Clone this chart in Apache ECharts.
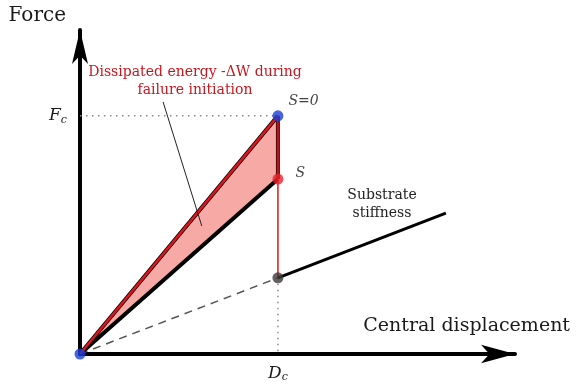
<!DOCTYPE html>
<html>
<head>
<meta charset="utf-8">
<script src="https://cdn.jsdelivr.net/npm/echarts@6/dist/echarts.min.js"></script>
<style>
  html, body { margin: 0; padding: 0; background: #fff; }
  #chart { width: 579px; height: 386px; }
</style>
</head>
<body>
<div id="chart"></div>
<script>
// Force / central-displacement response (arbitrary units)
const origin = [0, 0];
const peakPoint = [45.5, 73.5];       // S = 0, critical force Fc reached at Dc
const damagedPoint = [45.5, 54.0];    // S, stiffness after failure initiation
const substrateStart = [45.5, 23.5];  // substrate-only response at Dc
const substrateEnd = [84.1, 43.5];
const leaderLine = [[19.1, 77.8], [28.0, 39.5]];
const xTickValues = [45.5];           // Dc
const yTickValues = [73.5];           // Fc
const axisNames = ['Central displacement', 'Force'];
const noteLines = ['Dissipated energy -\u0394W during', 'failure initiation'];
const substrateNote = ['Substrate', 'stiffness'];

const serif = 'DejaVu Serif';
const RED = '#e0141c';
const TEXT_RED = '#c8161e';

const chart = echarts.init(document.getElementById('chart'), null, { renderer: 'canvas' });

function segment(points, style, z) {
  return {
    type: 'line',
    data: points,
    symbol: 'none',
    silent: true,
    animation: false,
    z: z,
    lineStyle: style
  };
}

const option = {
  backgroundColor: '#fff',
  animation: false,
  grid: { left: 80, right: 64, top: 30, bottom: 32 },
  xAxis: {
    type: 'value',
    min: 0,
    max: 100,
    name: axisNames[0],
    nameLocation: 'end',
    nameGap: 55,
    nameTextStyle: {
      fontFamily: serif, fontSize: 19, color: '#1a1a1a',
      align: 'right', verticalAlign: 'bottom', padding: [0, 0, 18, 0]
    },
    axisLine: {
      show: true,
      symbol: ['none', 'arrow'],
      symbolSize: [14, 34],
      lineStyle: { color: '#000', width: 4 }
    },
    axisTick: { show: false },
    splitLine: { show: false },
    axisLabel: {
      customValues: xTickValues,
      margin: 10,
      formatter: () => '{v|D}{s|c}',
      rich: {
        v: { fontFamily: serif, fontStyle: 'italic', fontSize: 17, color: '#1a1a1a' },
        s: { fontFamily: serif, fontStyle: 'italic', fontSize: 11, color: '#1a1a1a', padding: [8, 0, 0, 0] }
      }
    }
  },
  yAxis: {
    type: 'value',
    min: 0,
    max: 100,
    name: axisNames[1],
    nameLocation: 'end',
    nameGap: 4,
    nameTextStyle: {
      fontFamily: serif, fontSize: 20, color: '#1a1a1a',
      align: 'right', verticalAlign: 'bottom', padding: [0, 14, 0, 0]
    },
    axisLine: {
      show: true,
      symbol: ['none', 'arrow'],
      symbolSize: [12, 34],
      lineStyle: { color: '#000', width: 4 }
    },
    axisTick: { show: false },
    splitLine: { show: false },
    axisLabel: {
      customValues: yTickValues,
      margin: 13,
      formatter: () => '{v|F}{s|c}',
      rich: {
        v: { fontFamily: serif, fontStyle: 'italic', fontSize: 17, color: '#1a1a1a' },
        s: { fontFamily: serif, fontStyle: 'italic', fontSize: 11, color: '#1a1a1a', padding: [8, 0, 0, 0] }
      }
    }
  },
  graphic: [
    {
      type: 'text',
      x: 195, y: 63,
      style: {
        text: noteLines.join('\n'),
        fontFamily: serif, fontSize: 14, fill: TEXT_RED,
        align: 'center', verticalAlign: 'top', lineHeight: 18
      },
      silent: true
    },
    {
      type: 'text',
      x: 382, y: 186,
      style: {
        text: substrateNote.join('\n'),
        fontFamily: serif, fontSize: 14, fill: '#222',
        align: 'center', verticalAlign: 'top', lineHeight: 18
      },
      silent: true
    }
  ],
  series: [
    // energy dissipated during failure initiation
    {
      type: 'custom',
      silent: true,
      z: 1,
      data: [[0]],
      renderItem: function (params, api) {
        const pts = [origin, peakPoint, damagedPoint].map(p => api.coord(p));
        return {
          type: 'polygon',
          shape: { points: pts },
          style: { fill: '#f7a9a6', stroke: null }
        };
      }
    },
    segment([[0, peakPoint[1]], peakPoint], { color: '#8a8a8a', width: 1.5, type: [1.5, 4.5] }, 2),
    segment([substrateStart, [substrateStart[0], 0]], { color: '#8a8a8a', width: 1.5, type: [1.5, 4.5] }, 2),
    segment([origin, substrateStart], { color: '#555', width: 1.5, type: [8, 6] }, 2),
    segment([origin, damagedPoint], { color: '#000', width: 4 }, 3),
    segment([origin, peakPoint], { color: '#000', width: 4 }, 3),
    segment([origin, peakPoint], { color: RED, width: 2.5 }, 4),
    segment([peakPoint, damagedPoint], { color: '#5a0a0c', width: 4 }, 3),
    segment([peakPoint, damagedPoint], { color: RED, width: 1.5 }, 4),
    segment([damagedPoint, substrateStart], { color: RED, width: 1.5 }, 3),
    segment([substrateStart, substrateEnd], { color: '#000', width: 3 }, 3),
    segment(leaderLine, { color: '#222', width: 1 }, 5),
    {
      type: 'scatter',
      silent: true,
      animation: false,
      z: 6,
      symbolSize: 11,
      data: [
        { value: origin, itemStyle: { color: '#1a3fd8' } },
        {
          value: peakPoint, itemStyle: { color: '#1a3fd8' },
          label: {
            show: true, position: 'right', distance: 5, offset: [0, -15],
            formatter: 'S=0', fontFamily: serif, fontStyle: 'italic', fontSize: 14, color: '#111'
          }
        },
        {
          value: damagedPoint, itemStyle: { color: '#e8202a' },
          label: {
            show: true, position: 'right', distance: 12, offset: [0, -6],
            formatter: 'S', fontFamily: serif, fontStyle: 'italic', fontSize: 14, color: '#111'
          }
        },
        { value: substrateStart, itemStyle: { color: '#3d3a38' } }
      ]
    }
  ]
};

chart.setOption(option);
</script>
</body>
</html>
